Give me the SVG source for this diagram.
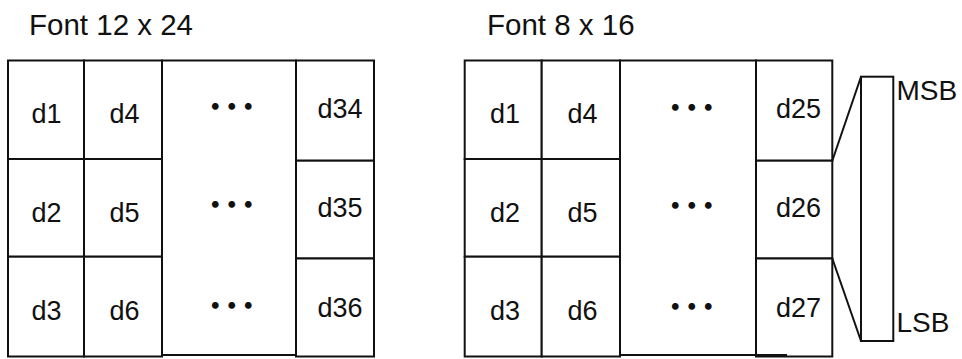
<svg xmlns="http://www.w3.org/2000/svg" width="962" height="359" viewBox="0 0 962 359">
<style>
.c{fill:#fff;stroke:#111;stroke-width:2}
.t{font-family:"Liberation Sans",Arial,sans-serif;font-size:27px;fill:#111;text-anchor:middle}
.h{font-family:"Liberation Sans",Arial,sans-serif;font-size:29.5px;fill:#111}
.m{font-family:"Liberation Sans",Arial,sans-serif;font-size:28px;fill:#111}
.d{font-family:"Noto Sans CJK JP","Noto Sans",sans-serif;font-size:24px;font-weight:900;letter-spacing:-7.5px;fill:#111}
.l{stroke:#111;stroke-width:2;fill:none}
</style>
<rect width="962" height="359" fill="#fff"/>
<text class="h" x="29" y="35">Font 12 x 24</text>
<text class="h" x="487" y="35">Font 8 x 16</text>

<g id="left-grid">
  <g id="L-d1"><rect class="c" x="8" y="60.5" width="76" height="98.5"/><text class="t" x="46.5" y="123">d1</text></g>
  <g id="L-d2"><rect class="c" x="8" y="159" width="76" height="97.7"/><text class="t" x="46.5" y="221.5">d2</text></g>
  <g id="L-d3"><rect class="c" x="8" y="256.7" width="76" height="99.8"/><text class="t" x="46.5" y="319.5">d3</text></g>
  <g id="L-d4"><rect class="c" x="84" y="60.5" width="78" height="98.5"/><text class="t" x="124.5" y="123">d4</text></g>
  <g id="L-d5"><rect class="c" x="84" y="159" width="78" height="97.7"/><text class="t" x="124.5" y="221.5">d5</text></g>
  <g id="L-d6"><rect class="c" x="84" y="256.7" width="78" height="99.8"/><text class="t" x="124.5" y="319.5">d6</text></g>
  <g id="L-mid"><rect class="c" x="162" y="60.5" width="134" height="294.5"/>
    <text class="d" x="203.2" y="114.7">・・・</text>
    <text class="d" x="203.2" y="213.3">・・・</text>
    <text class="d" x="203.2" y="314">・・・</text></g>
  <g id="L-d34"><rect class="c" x="296" y="60.5" width="78" height="100.2"/><text class="t" x="340" y="117.5">d34</text></g>
  <g id="L-d35"><rect class="c" x="296" y="160.7" width="78" height="97.8"/><text class="t" x="340" y="216.5">d35</text></g>
  <g id="L-d36"><rect class="c" x="296" y="258.5" width="78" height="98"/><text class="t" x="340" y="316.5">d36</text></g>
</g>

<g id="right-grid">
  <g id="R-d1"><rect class="c" x="464.7" y="60.5" width="77" height="98.5"/><text class="t" x="505" y="123">d1</text></g>
  <g id="R-d2"><rect class="c" x="464.7" y="159" width="77" height="97.7"/><text class="t" x="505" y="221.5">d2</text></g>
  <g id="R-d3"><rect class="c" x="464.7" y="256.7" width="77" height="99.8"/><text class="t" x="505" y="319.5">d3</text></g>
  <g id="R-d4"><rect class="c" x="541.7" y="60.5" width="78.3" height="98.5"/><text class="t" x="582.5" y="123">d4</text></g>
  <g id="R-d5"><rect class="c" x="541.7" y="159" width="78.3" height="97.7"/><text class="t" x="582.5" y="221.5">d5</text></g>
  <g id="R-d6"><rect class="c" x="541.7" y="256.7" width="78.3" height="99.8"/><text class="t" x="582.5" y="319.5">d6</text></g>
  <g id="R-mid"><rect class="c" x="620" y="60.5" width="136" height="294.5"/>
    <text class="d" x="663.2" y="115.5">・・・</text>
    <text class="d" x="663.2" y="214">・・・</text>
    <text class="d" x="663.2" y="314.5">・・・</text></g>
  <g id="R-d25"><rect class="c" x="756" y="60.5" width="76.3" height="100.2"/><text class="t" x="798.5" y="117.5">d25</text></g>
  <g id="R-d26"><rect class="c" x="756" y="160.7" width="76.3" height="97.8"/><text class="t" x="798.5" y="216.5">d26</text></g>
  <g id="R-d27"><rect class="c" x="756" y="258.5" width="76.3" height="98"/><text class="t" x="798.5" y="316.5">d27</text></g>
  <line x1="757" y1="355.5" x2="787" y2="355.5" stroke="#111" stroke-width="3"/>
</g>

<g id="bits">
  <rect class="c" x="861" y="76.7" width="32.3" height="264.3"/>
  <text class="m" x="896.5" y="100">MSB</text>
  <text class="m" x="896.5" y="331.7">LSB</text>
</g>

<g id="connectors">
  <line class="l" x1="832.3" y1="160.7" x2="861" y2="76.7"/>
  <line class="l" x1="832.3" y1="258.5" x2="861" y2="341"/>
</g>
</svg>
